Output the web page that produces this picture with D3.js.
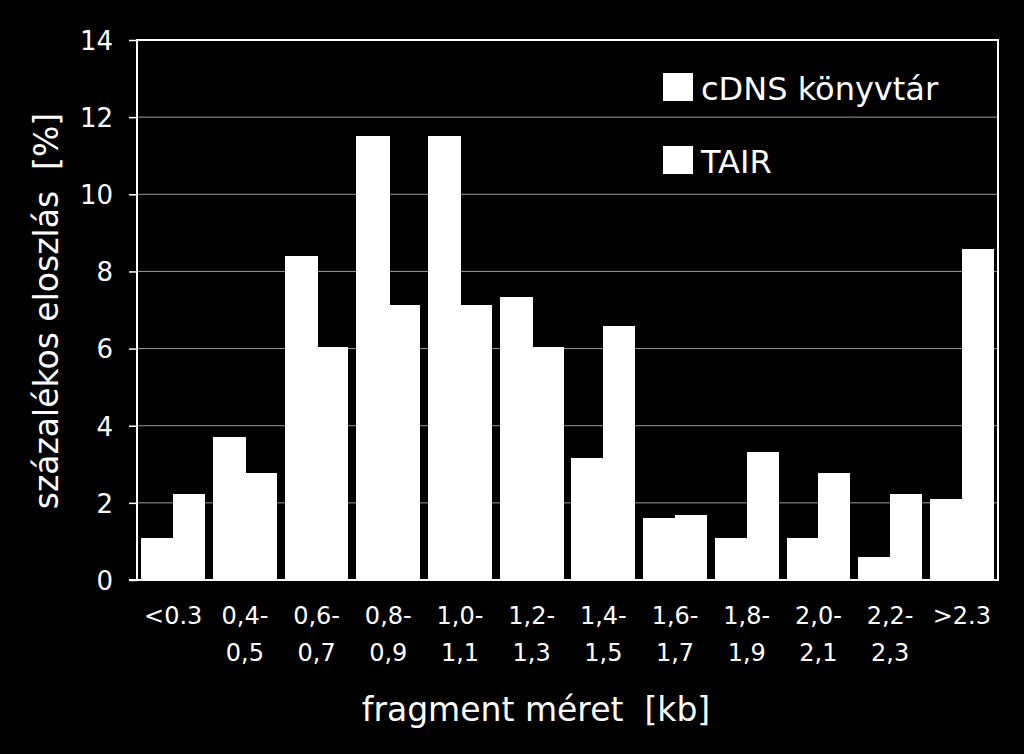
<!DOCTYPE html>
<html>
<head>
<meta charset="utf-8">
<script src="https://cdn.jsdelivr.net/npm/d3@7"></script>
<style>
  html, body { margin: 0; padding: 0; background: #000; }
  svg { display: block; }
  text { font-family: "DejaVu Sans", sans-serif; fill: #fff; white-space: pre; }
</style>
</head>
<body>
<svg id="chart" width="1024" height="754"></svg>
<script>
// ---- data ----
const categoriesLine1 = ["<0.3", "0,4-", "0,6-", "0,8-", "1,0-", "1,2-", "1,4-", "1,6-", "1,8-", "2,0-", "2,2-", ">2.3"];
const categoriesLine2 = ["", "0,5", "0,7", "0,9", "1,1", "1,3", "1,5", "1,7", "1,9", "2,1", "2,3", ""];
const seriesNames = ["cDNS könyvtár", "TAIR"];
const cdnsValues = [1.1, 3.72, 8.39, 11.51, 11.51, 7.34, 3.17, 1.62, 1.1, 1.1, 0.6, 2.1];
const tairValues = [2.23, 2.77, 6.03, 7.13, 7.13, 6.03, 6.59, 1.68, 3.32, 2.77, 2.23, 8.59];
const yTicks = [0, 2, 4, 6, 8, 10, 12, 14];
const xTitle = "fragment méret  [kb]";
const yTitle = "százalékos eloszlás  [%]";

// ---- layout ----
const mLeft = 137, mRight = 998, mTop = 40, mBottom = 580;
const svg = d3.select("#chart");
svg.append("rect").attr("width", 1024).attr("height", 754).attr("fill", "#000");

const catIdx = d3.range(categoriesLine1.length);
const x0 = d3.scaleBand().domain(catIdx).range([mLeft, mRight]).paddingInner(0.11).paddingOuter(0.06);
const x1 = d3.scaleBand().domain([0, 1]).range([0, x0.bandwidth()]);
const y = d3.scaleLinear().domain([0, 14]).range([mBottom, mTop]);

// gridlines
svg.append("g").selectAll("line")
  .data(yTicks.filter(t => t > 0 && t < 14))
  .join("line")
  .attr("x1", mLeft).attr("x2", mRight)
  .attr("y1", d => y(d)).attr("y2", d => y(d))
  .attr("stroke", "#9a9a9a").attr("stroke-width", 1);

// bars
const data = catIdx.map(i => [cdnsValues[i], tairValues[i]]);
const groups = svg.append("g").selectAll("g")
  .data(data).join("g")
  .attr("transform", (d, i) => `translate(${x0(i)},0)`);
groups.selectAll("rect")
  .data(d => d.map((v, j) => ({ v, j })))
  .join("rect")
  .attr("x", d => x1(d.j))
  .attr("width", d => x1.bandwidth() + (d.j === 0 ? 1.5 : 0))
  .attr("y", d => y(d.v))
  .attr("height", d => y(0) - y(d.v))
  .attr("fill", "#fff")
  .attr("shape-rendering", "crispEdges");

// frame
svg.append("path")
  .attr("d", `M${mLeft},${mBottom}V${mTop}H${mRight}V${mBottom}`)
  .attr("fill", "none").attr("stroke", "#fff").attr("stroke-width", 2);
svg.append("line").attr("x1", mLeft - 8).attr("x2", mRight + 1)
  .attr("y1", mBottom).attr("y2", mBottom)
  .attr("stroke", "#fff").attr("stroke-width", 2);

// y axis
const yAxis = d3.axisLeft(y).tickValues(yTicks).tickSize(8).tickPadding(16).tickFormat(d3.format("d"));
const yg = svg.append("g").attr("transform", `translate(${mLeft},0)`).call(yAxis);
yg.select(".domain").remove();
yg.selectAll(".tick line").attr("stroke", "#fff").attr("stroke-width", 1.5);
yg.selectAll(".tick text").attr("fill", "#fff").style("font-size", "26px")
  .style("font-family", "DejaVu Sans").attr("dy", "0.36em");

// x axis labels
const xAxis = d3.axisBottom(x0).tickSize(0).tickFormat(() => "");
const xg = svg.append("g").attr("transform", `translate(0,${mBottom})`).call(xAxis);
xg.select(".domain").remove();
xg.selectAll(".tick").each(function (d) {
  const t = d3.select(this).append("text")
    .attr("text-anchor", "middle")
    .style("font-size", "24px");
  t.append("tspan").attr("x", 0).attr("y", 44).text(categoriesLine1[d]);
  if (categoriesLine2[d]) t.append("tspan").attr("x", 0).attr("y", 81).text(categoriesLine2[d]);
});

// axis titles
svg.append("text").attr("x", 536).attr("y", 721)
  .attr("text-anchor", "middle").style("font-size", "33px").text(xTitle);
svg.append("text").attr("transform", `translate(58,311) rotate(-90)`)
  .attr("text-anchor", "middle").style("font-size", "33px").text(yTitle);

// legend
const legend = svg.append("g").selectAll("g").data(seriesNames).join("g")
  .attr("transform", (d, i) => `translate(663,${73 + i * 73})`);
legend.append("rect").attr("width", 30).attr("height", 28).attr("fill", "#fff");
legend.append("text").attr("x", 38).attr("y", 27).style("font-size", "32px").text(d => d);
</script>
</body>
</html>
